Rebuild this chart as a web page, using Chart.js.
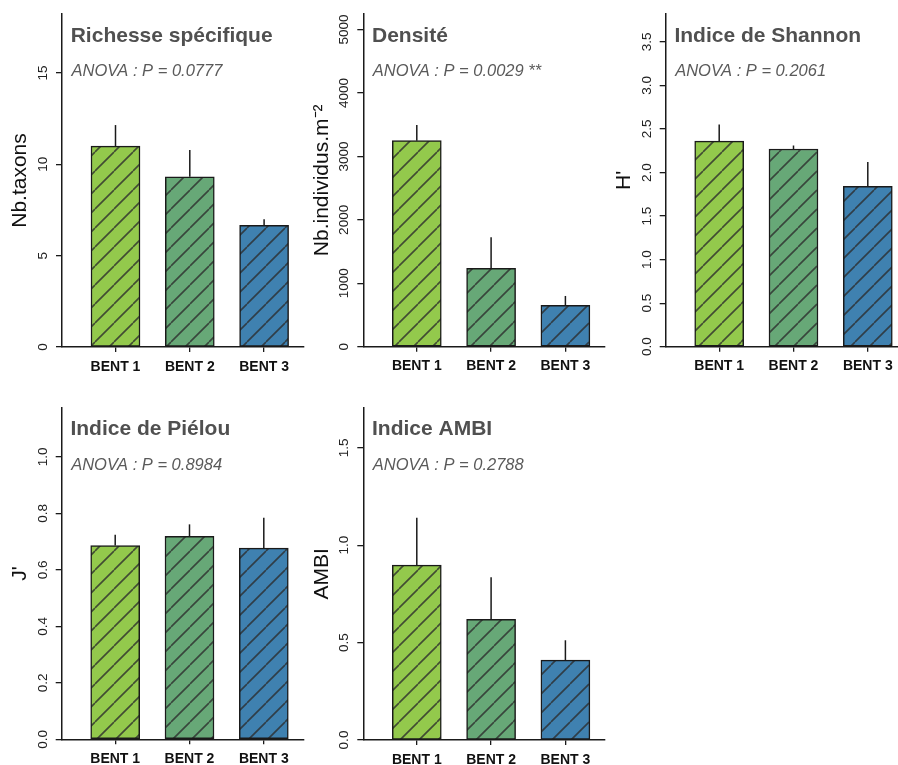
<!DOCTYPE html>
<html>
<head>
<meta charset="utf-8">
<script src="https://cdn.jsdelivr.net/npm/chart.js@4/dist/chart.umd.min.js"></script>
<style>
html, body { margin: 0; padding: 0; background: #ffffff; }
#wrap { position: relative; width: 898px; height: 765px; overflow: hidden; background: #ffffff; }
#wrap canvas { position: absolute; left: 0; top: 0; }
</style>
</head>
<body>
<div id="wrap">
  <canvas id="c0" width="898" height="765"></canvas>
  <canvas id="c1" width="898" height="765"></canvas>
  <canvas id="c2" width="898" height="765"></canvas>
  <canvas id="c3" width="898" height="765"></canvas>
  <canvas id="c4" width="898" height="765"></canvas>
</div>
<script>
// ---------------- DATA ----------------
const categories = ["BENT 1", "BENT 2", "BENT 3"];

const richesseMeans = [11.0, 9.32, 6.66];
const richesseSE    = [1.15, 1.46, 0.34];
const richesseTicks = [0, 5, 10, 15];
const richesseTickLabels = ["0", "5", "10", "15"];

const densiteMeans = [3249, 1236, 653];
const densiteSE    = [248, 489, 147];
const densiteTicks = [0, 1000, 2000, 3000, 4000, 5000];
const densiteTickLabels = ["0", "1000", "2000", "3000", "4000", "5000"];

const shannonMeans = [2.36, 2.27, 1.84];
const shannonSE    = [0.19, 0.04, 0.28];
const shannonTicks = [0, 0.5, 1.0, 1.5, 2.0, 2.5, 3.0, 3.5];
const shannonTickLabels = ["0.0", "0.5", "1.0", "1.5", "2.0", "2.5", "3.0", "3.5"];

const pielouMeans = [0.686, 0.719, 0.677];
const pielouSE    = [0.038, 0.042, 0.107];
const pielouTicks = [0, 0.2, 0.4, 0.6, 0.8, 1.0];
const pielouTickLabels = ["0.0", "0.2", "0.4", "0.6", "0.8", "1.0"];

const ambiMeans = [0.898, 0.62, 0.41];
const ambiSE    = [0.243, 0.215, 0.102];
const ambiTicks = [0, 0.5, 1.0, 1.5];
const ambiTickLabels = ["0.0", "0.5", "1.0", "1.5"];

const panelTitles = ["Richesse spécifique", "Densité", "Indice de Shannon", "Indice de Piélou", "Indice AMBI"];
const anovaTexts  = ["ANOVA : P = 0.0777", "ANOVA : P = 0.0029 **", "ANOVA : P = 0.2061", "ANOVA : P = 0.8984", "ANOVA : P = 0.2788"];
const yAxisTitles = ["Nb.taxons", "Nb.individus.m\u207B\u00B2", "H'", "J'", "AMBI"];
const yAxisMax    = [18.23, 5246, 3.82, 1.174, 1.706];

// ---------------- STYLE / LAYOUT ----------------
const barColors = ["#93c94c", "#67a877", "#3f81b0"];
const FONT = "'Liberation Sans', Arial, Helvetica, sans-serif";
const W = 898, H = 765;
const YW = 62, XH = 24;
const PX_PER_UNIT = 74.3, FIRST_OFFSET = 53.5;

const layouts = [
  { left: 62,    right: 303.3, top: 14,    bottom: 347 },
  { left: 363.3, right: 605,   top: 14,    bottom: 346.7 },
  { left: 665.7, right: 898,   top: 14,    bottom: 346.7 },
  { left: 61.7,  right: 303.3, top: 407.7, bottom: 739.3 },
  { left: 363.3, right: 605,   top: 407.7, bottom: 740 }
];

function makePattern(color) {
  const P = 19;
  const c = document.createElement('canvas');
  c.width = P; c.height = P;
  const g = c.getContext('2d');
  g.fillStyle = color;
  g.fillRect(0, 0, P, P);
  g.strokeStyle = 'rgba(45,45,45,0.8)';
  g.lineWidth = 1.6;
  g.beginPath();
  for (const x0 of [-P, 0, P]) {
    g.moveTo(x0, P);
    g.lineTo(x0 + P, 0);
  }
  g.stroke();
  return g.createPattern(c, 'repeat');
}

const errorBarsPlugin = {
  id: 'errorBars',
  afterDatasetsDraw(chart, args, opts) {
    const meta = chart.getDatasetMeta(0);
    const ys = chart.scales.y;
    const ctx = chart.ctx;
    ctx.save();
    ctx.strokeStyle = '#1a1a1a';
    ctx.lineWidth = 1.5;
    meta.data.forEach((bar, i) => {
      const y0 = ys.getPixelForValue(opts.means[i]);
      const y1 = ys.getPixelForValue(opts.means[i] + opts.se[i]);
      ctx.beginPath();
      ctx.moveTo(bar.x, y0);
      ctx.lineTo(bar.x, y1);
      ctx.stroke();
    });
    ctx.restore();
  }
};

const panelTextPlugin = {
  id: 'panelText',
  afterDraw(chart, args, opts) {
    const ctx = chart.ctx;
    const a = chart.chartArea;
    const ys = chart.scales.y;
    ctx.save();
    ctx.fillStyle = '#505050';
    ctx.textAlign = 'left';
    ctx.textBaseline = 'alphabetic';
    ctx.font = 'bold 21px ' + FONT;
    ctx.fillText(opts.title, a.left + 8.7, a.top + 27.7);
    ctx.font = 'italic 16.5px ' + FONT;
    ctx.fillStyle = '#5a5a5a';
    ctx.fillText(opts.subtitle, a.left + 9.5, a.top + 62);
    ctx.fillStyle = '#222';
    ctx.font = '13.5px ' + FONT;
    ctx.textAlign = 'center';
    ctx.textBaseline = 'middle';
    opts.tickValues.forEach((v, i) => {
      const y = ys.getPixelForValue(v);
      ctx.save();
      ctx.translate(a.left - 18.7, y);
      ctx.rotate(-Math.PI / 2);
      ctx.fillText(opts.tickLabels[i], 0, 0);
      ctx.restore();
    });
    ctx.restore();
  }
};

function makePanel(idx, means, se, ticks, tickLabels) {
  const L = layouts[idx];
  const xmin = 1 - FIRST_OFFSET / PX_PER_UNIT;
  const xmax = xmin + (L.right - L.left) / PX_PER_UNIT;
  const ctx = document.getElementById('c' + idx).getContext('2d');
  return new Chart(ctx, {
    type: 'bar',
    data: {
      datasets: [{
        data: means.map((m, i) => ({ x: i + 1, y: m })),
        backgroundColor: barColors.map(makePattern),
        borderColor: '#1a1a1a',
        borderWidth: 1.5,
        borderSkipped: false,
        barThickness: 49
      }]
    },
    options: {
      responsive: false,
      animation: false,
      devicePixelRatio: 1,
      layout: {
        padding: {
          left: L.left - YW,
          right: W - L.right,
          top: L.top,
          bottom: H - L.bottom - XH
        }
      },
      scales: {
        x: {
          type: 'linear',
          offset: false,
          min: xmin,
          max: xmax,
          afterBuildTicks(scale) {
            scale.ticks = categories.map((c, i) => ({ value: i + 1 }));
          },
          afterFit(scale) {
            scale.height = XH;
            scale.paddingLeft = 0;
            scale.paddingRight = 0;
          },
          grid: { display: true, offset: false, drawOnChartArea: false, drawTicks: true, tickLength: 5, color: '#1a1a1a', lineWidth: 1.3 },
          border: { display: true, color: '#1a1a1a', width: 1.5 },
          ticks: {
            autoSkip: false,
            maxRotation: 0,
            padding: 6.5,
            color: '#111',
            font: { family: FONT, size: 14, weight: 'bold' },
            callback(v) { return categories[Math.round(v) - 1]; }
          }
        },
        y: {
          type: 'linear',
          min: 0,
          max: yAxisMax[idx],
          afterBuildTicks(scale) {
            scale.ticks = ticks.map(v => ({ value: v }));
          },
          afterFit(scale) {
            scale.width = YW;
            scale.paddingTop = 0;
            scale.paddingBottom = 0;
          },
          grid: { display: true, drawOnChartArea: false, drawTicks: true, tickLength: 6, color: '#1a1a1a', lineWidth: 1.3 },
          border: { display: true, color: '#1a1a1a', width: 1.5 },
          ticks: { display: false },
          title: {
            display: true,
            text: yAxisTitles[idx],
            color: '#111',
            font: { family: FONT, size: 21 },
            padding: { top: 8, bottom: 0 }
          }
        }
      },
      plugins: {
        legend: { display: false },
        tooltip: { enabled: false },
        errorBars: { means: means, se: se },
        panelText: {
          title: panelTitles[idx],
          subtitle: anovaTexts[idx],
          tickValues: ticks,
          tickLabels: tickLabels
        }
      }
    },
    plugins: [errorBarsPlugin, panelTextPlugin]
  });
}

makePanel(0, richesseMeans, richesseSE, richesseTicks, richesseTickLabels);
makePanel(1, densiteMeans, densiteSE, densiteTicks, densiteTickLabels);
makePanel(2, shannonMeans, shannonSE, shannonTicks, shannonTickLabels);
makePanel(3, pielouMeans, pielouSE, pielouTicks, pielouTickLabels);
makePanel(4, ambiMeans, ambiSE, ambiTicks, ambiTickLabels);
</script>
</body>
</html>
